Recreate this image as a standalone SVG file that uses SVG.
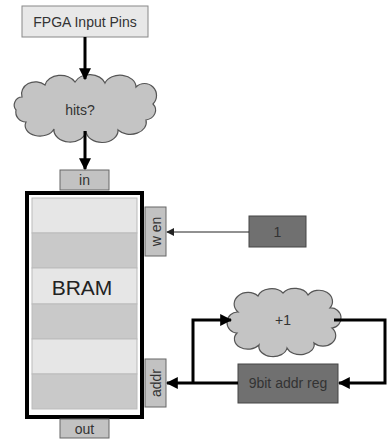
<svg xmlns="http://www.w3.org/2000/svg" width="388" height="439" viewBox="0 0 388 439">
  <style>
    text { font-family: "Liberation Sans", Arial, sans-serif; fill: #333; font-size: 14px; text-anchor: middle; }
    .light { fill: #e8e8e8; stroke: #888; stroke-width: 1; }
    .port { fill: #c2c2c2; stroke: #666; stroke-width: 1; }
    .dark { fill: #707070; stroke: #444; stroke-width: 1; }
    .cloud { fill: #c4c4c4; stroke: #555; stroke-width: 1.2; }
    .rowA { fill: #e6e6e6; stroke: #bbb; stroke-width: 1; }
    .rowB { fill: #c9c9c9; stroke: #bbb; stroke-width: 1; }
    .bus { fill: none; stroke: #000; stroke-width: 3; }
    .wire { fill: none; stroke: #222; stroke-width: 1; }
  </style>
  <defs>
    <marker id="head" viewBox="0 0 10 10" refX="9" refY="5" markerWidth="4" markerHeight="4" orient="auto" markerUnits="strokeWidth">
      <path d="M0,0 L10,5 L0,10 Z" fill="#000"/>
    </marker>
    <marker id="headThin" viewBox="0 0 10 10" refX="9" refY="5" markerWidth="8" markerHeight="8" orient="auto" markerUnits="strokeWidth">
      <path d="M0,0 L10,5 L0,10 Z" fill="#222"/>
    </marker>
  </defs>

  <g id="fpga-pins">
    <rect class="light" x="22" y="6" width="126" height="31"/>
    <text x="85" y="27">FPGA Input Pins</text>
  </g>

  <g id="hits">
    <path class="cloud" d="M22,97 A14,12 0 0 1 45,85 A16,12 0 0 1 75,82 A16,12 0 0 1 105,83 A16,12 0 0 1 136,87 A12,12 0 0 1 153,104 A12,10 0 0 1 146,120 A16,12 0 0 1 118,130 A16,12 0 0 1 86,131 A16,12 0 0 1 54,129 A14,10 0 0 1 26,122 A10,10 0 0 1 16,110 A8,8 0 0 1 22,97 Z"/>
    <text x="80" y="115">hits?</text>
  </g>

  <g id="bram">
    <rect x="27" y="193" width="115" height="224" fill="#fff" stroke="#000" stroke-width="4"/>
    <rect class="rowA" x="32" y="198" width="105" height="35"/>
    <rect class="rowB" x="32" y="233" width="105" height="35"/>
    <rect class="rowA" x="32" y="268" width="105" height="36"/>
    <rect class="rowB" x="32" y="304" width="105" height="35"/>
    <rect class="rowA" x="32" y="339" width="105" height="35"/>
    <rect class="rowB" x="32" y="374" width="105" height="35"/>
    <text x="82" y="295" style="font-size:21px;fill:#222">BRAM</text>
  </g>

  <g id="port-in">
    <rect class="port" x="60" y="170" width="49" height="20"/>
    <text x="84.5" y="185">in</text>
  </g>

  <g id="port-wen">
    <rect class="port" x="145" y="207" width="21" height="49"/>
    <text x="0" y="0" transform="translate(160.5,231.5) rotate(-90)">w en</text>
  </g>

  <g id="port-addr">
    <rect class="port" x="145" y="359" width="21" height="48"/>
    <text x="0" y="0" transform="translate(160.5,383) rotate(-90)">addr</text>
  </g>

  <g id="port-out">
    <rect class="port" x="60" y="419" width="49" height="19"/>
    <text x="84.5" y="434">out</text>
  </g>

  <g id="const-one">
    <rect class="dark" x="249" y="216" width="57" height="31"/>
    <text x="277.5" y="237">1</text>
  </g>

  <g id="incr">
    <path class="cloud" d="M238,312 A12,10 0 0 1 258,296 A14,10 0 0 1 283,293 A14,10 0 0 1 308,295 A12,10 0 0 1 330,308 A9,9 0 0 1 332,328 A12,10 0 0 1 314,343 A14,10 0 0 1 287,348 A14,10 0 0 1 259,345 A12,9 0 0 1 237,333 A8,8 0 0 1 238,312 Z"/>
    <text x="283" y="325">+1</text>
  </g>

  <g id="addr-reg">
    <rect class="dark" x="238" y="364" width="100" height="39"/>
    <text x="288" y="388">9bit addr reg</text>
  </g>

  <g id="connectors">
    <path class="bus" d="M85,37 V79" marker-end="url(#head)"/>
    <path class="bus" d="M85,131 V169" marker-end="url(#head)"/>
    <path class="wire" d="M249,232 H167" marker-end="url(#headThin)"/>
    <path class="bus" d="M238,383 H167" marker-end="url(#head)"/>
    <path class="bus" d="M193,383 V320 H231" marker-end="url(#head)"/>
    <path class="bus" d="M334,320 H385 V383 H339" marker-end="url(#head)"/>
  </g>
</svg>
